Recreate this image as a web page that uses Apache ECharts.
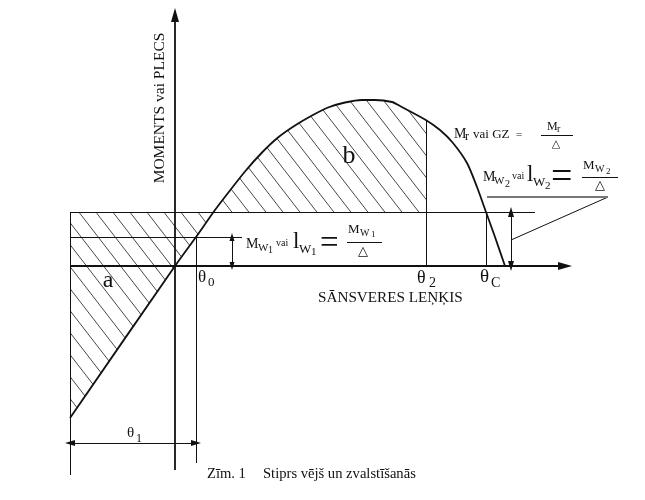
<!DOCTYPE html>
<html><head><meta charset="utf-8">
<script src="https://cdn.jsdelivr.net/npm/echarts@6/dist/echarts.min.js"></script>
<style>html,body{margin:0;padding:0;background:#fff}#c{width:645px;height:500px}</style>
</head><body><div id="c"></div>
<script>
// Righting arm curve (angle units, moment units)
const curveX = [-21, 0, 4.2, 8, 10.6, 14, 17.4, 20.6, 24, 27.4, 30.6, 34, 37.4, 40, 43.4, 45, 50, 53, 55.6, 58.4, 60.4, 62.2, 64, 66];
const curveY = [-30.4, 0, 5.8, 11.2, 14.6, 18.9, 22.7, 25.7, 28.1, 30.1, 31.7, 32.7, 33.2, 33.2, 32.8, 32.0, 29.3, 27.2, 24.6, 20.6, 15.8, 10.8, 5.8, 0];
// Heeling levels and angles
const levelMw1 = 5.8;
const levelMw2 = 10.8;
const theta0 = 4.2;
const theta2 = 50.2;
const thetaC = 62.2;
const leftEdge = -21;
const axisXEnd = 78;
const axisYTop = 50.2;
const axisYBottom = -40.8;

function interpX(level, lo, hi) {
  for (let i = 0; i < curveX.length - 1; i++) {
    const y0 = curveY[i], y1 = curveY[i + 1];
    if (curveX[i] >= lo && curveX[i + 1] <= hi && (y0 - level) * (y1 - level) <= 0 && y0 !== y1) {
      return curveX[i] + (level - y0) * (curveX[i + 1] - curveX[i]) / (y1 - y0);
    }
  }
  return null;
}
function interpY(x) {
  for (let i = 0; i < curveX.length - 1; i++) {
    if (x >= curveX[i] && x <= curveX[i + 1]) {
      return curveY[i] + (x - curveX[i]) * (curveY[i + 1] - curveY[i]) / (curveX[i + 1] - curveX[i]);
    }
  }
  return 0;
}
const xa = interpX(levelMw2, -100, 30);
const polyA = [[leftEdge, levelMw2], [xa, levelMw2]];
for (let i = curveX.length - 1; i >= 0; i--) if (curveX[i] < xa && curveX[i] >= leftEdge) polyA.push([curveX[i], curveY[i]]);
const polyB = [[xa, levelMw2]];
for (let i = 0; i < curveX.length; i++) if (curveX[i] > xa && curveX[i] < theta2) polyB.push([curveX[i], curveY[i]]);
polyB.push([theta2, interpY(theta2)], [theta2, levelMw2]);

// hatch pattern
const HW = 17, slope = 1.3, HH = Math.round(HW * slope);
const cv = document.createElement('canvas'); cv.width = HW; cv.height = HH;
const cx = cv.getContext('2d');
cx.strokeStyle = '#333'; cx.lineWidth = 0.9;
for (let k = -1; k <= 1; k++) {
  cx.beginPath(); cx.moveTo(-HW + k * HW, -HH); cx.lineTo(2 * HW + k * HW, 2 * HH); cx.stroke();
}
const pattern = { image: cv, repeat: 'repeat' };

function hatch(points) {
  return {
    type: 'custom', coordinateSystem: 'cartesian2d', silent: true, z: 1, data: [[0, 0]],
    renderItem: (p, api) => ({ type: 'polygon', shape: { points: points.map(q => api.coord(q)), smooth: 0 }, style: { fill: pattern, stroke: null } })
  };
}
const K = '#111';
function seg(a, b, opt) {
  opt = opt || {};
  return [
    { coord: a, symbol: opt.s0 || 'none', symbolSize: opt.sz || [7, 10], lineStyle: { color: opt.color || K, width: opt.w || 1, type: 'solid' } },
    { coord: b, symbol: opt.s1 || 'none', symbolSize: opt.sz || [7, 10] }
  ];
}
const ARW = 'path://M5,0L10,14L0,14Z';
const lines = [
  seg([0, axisYBottom], [0, axisYTop], { s1: ARW, w: 1.8, sz: [8, 14] }),
  seg([leftEdge, 0], [axisXEnd, 0], { s1: ARW, w: 1.8, sz: [8, 14] }),
  seg([leftEdge, levelMw2], [72, levelMw2]),
  seg([leftEdge, levelMw1], [13.4, levelMw1]),
  seg([leftEdge, levelMw2], [leftEdge, -41.8]),
  seg([theta0, levelMw1], [theta0, -39.4]),
  seg([theta2, 0], [theta2, interpY(theta2)]),
  seg([thetaC, 0], [thetaC, levelMw2]),
  seg([11.4, 0], [11.4, levelMw1], { s0: ARW, s1: ARW, sz: [5, 8] }),
  seg([67.2, 0], [67.2, levelMw2], { s0: ARW, s1: ARW, sz: [6, 10] }),
  seg([leftEdge, -35.4], [theta0, -35.4], { s0: ARW, s1: ARW, sz: [6, 10] }),
  seg([67.2, 5.2], [86.6, 13.8]),
  seg([62.4, 13.8], [86.6, 13.8], { color: '#777', w: 2 })
];

const chart = echarts.init(document.getElementById('c'), null, { renderer: 'canvas' });
const F = '"Liberation Serif", "Times New Roman", serif';
function T(text, x, y, size, o) {
  o = o || {};
  return {
    type: 'text', x: x, y: y, rotation: o.rot || 0, silent: true, z: 100,
    style: { text: text, font: size + 'px ' + (o.font || F), fill: K, align: o.align || 'left', verticalAlign: 'middle' }
  };
}
function L(x1, y1, x2, y2) {
  return { type: 'line', silent: true, z: 100, shape: { x1, y1, x2, y2 }, style: { stroke: K, lineWidth: 1 } };
}
const TRI = '"DejaVu Sans", sans-serif';
const graphics = [
  T('MOMENTS vai PLECS', 160, 108, 15.5, { rot: Math.PI / 2, align: 'center' }),
  T('a', 108, 281, 24, { align: 'center' }),
  T('b', 349, 156, 26, { align: 'center' }),
  T('θ', 198, 278, 17), T('0', 208, 283, 13),
  T('θ', 417, 278, 18), T('2', 429, 283, 14),
  T('θ', 480, 277, 19), T('C', 491, 283, 14),
  T('θ', 127, 433, 15), T('1', 136, 439, 12),
  T('SĀNSVERES LEŅĶIS', 318, 298, 15.2),
  T('Zīm. 1', 207, 474, 14.6),
  T('Stiprs vējš un zvalstīšanās', 263, 474, 14.6),
  // Mr formula
  T('M', 454, 134, 14), T('r', 465, 137, 12), T('vai GZ', 473, 135, 13), T('=', 516, 135, 11),
  T('M', 547, 127, 12), T('r', 557, 129, 10), L(541, 135.5, 573, 135.5), T('△', 556, 144, 11, { font: TRI, align: 'center' }),
  // Mw2 formula
  T('M', 483, 177, 14), T('W', 494, 181, 11), T('2', 505, 184, 10), T('vai', 512, 176, 10),
  T('l', 527, 175, 23), T('W', 533, 183, 13), T('2', 545, 186, 11), T('=', 551, 178, 38),
  T('M', 583, 166, 13), T('W', 595, 169, 10), T('2', 606, 172, 9), L(582, 177.5, 618, 177.5), T('△', 600, 186, 13, { font: TRI, align: 'center' }),
  // Mw1 formula
  T('M', 246, 244, 14), T('W', 258, 248, 11), T('1', 268, 250, 10), T('vai', 276, 243, 10),
  T('l', 293, 242, 23), T('W', 299, 250, 13), T('1', 311, 252, 11), T('=', 320, 244, 33),
  T('M', 348, 230, 13), T('W', 360, 233, 10), T('1', 371, 235, 9), L(347, 242.5, 382, 242.5), T('△', 363, 252, 13, { font: TRI, align: 'center' })
];

chart.setOption({
  animation: false,
  backgroundColor: '#fff',
  grid: { left: 0, right: 0, top: 0, bottom: 0 },
  xAxis: { type: 'value', min: -35, max: 94, show: false },
  yAxis: { type: 'value', min: -46.8, max: 53.2, show: false },
  series: [
    hatch(polyA),
    hatch(polyB),
    {
      type: 'line', data: curveX.map((x, i) => [x, curveY[i]]), smooth: 0.25,
      showSymbol: false, symbol: 'none', silent: true, z: 5,
      lineStyle: { color: K, width: 1.8 },
      markLine: { silent: true, animation: false, label: { show: false }, emphasis: { disabled: true }, data: lines }
    }
  ],
  graphic: graphics
});
</script>
</body></html>
